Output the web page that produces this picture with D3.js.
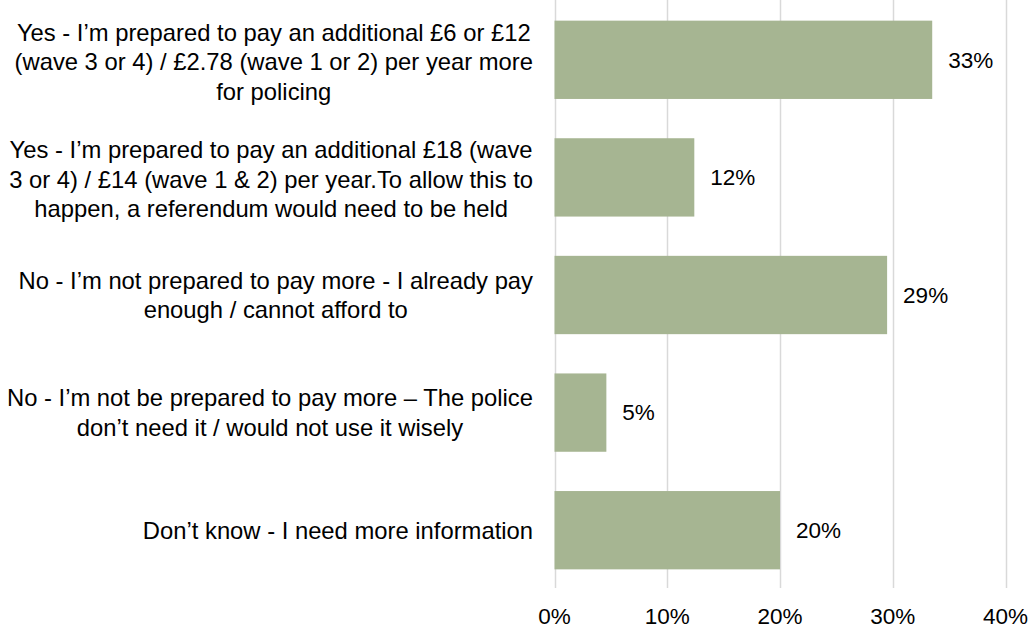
<!DOCTYPE html>
<html>
<head>
<meta charset="utf-8">
<script src="https://cdn.jsdelivr.net/npm/d3@7"></script>
<style>
  html, body { margin: 0; padding: 0; background: #ffffff; }
  svg { display: block; }
  text { font-family: "Liberation Sans", Arial, sans-serif; fill: #000; }
</style>
</head>
<body>
<svg id="chart" width="1033" height="630"></svg>
<script>
const categories = [
  "Yes - I\u2019m prepared to pay an additional \u00a36 or \u00a312\n(wave 3 or 4) / \u00a32.78 (wave 1 or 2) per year more\nfor policing",
  "Yes - I\u2019m prepared to pay an additional \u00a318 (wave\n3 or 4) / \u00a314 (wave 1 & 2) per year.To allow this to\nhappen, a referendum would need to be held",
  "No - I\u2019m not prepared to pay more - I already pay\nenough / cannot afford to",
  "No - I\u2019m not be prepared to pay more \u2013 The police\ndon\u2019t need it / would not use it wisely",
  "Don\u2019t know - I need more information"
];
const values = [33.5, 12.4, 29.5, 4.6, 20.0];
const valueLabels = ["33%", "12%", "29%", "5%", "20%"];
const tickValues = [0, 10, 20, 30, 40];
const tickLabels = ["0%", "10%", "20%", "30%", "40%"];

(function () {
const svg = d3.select("#chart");
const mLeft = 554.5, mRight = 1005.5, mTop = 1, mBottom = 589;
const numSize = 22.5, catSize = 23.8;

const x = d3.scaleLinear().domain([0, 40]).range([mLeft, mRight]);
const y = d3.scaleBand().domain(categories).range([mTop, mBottom])
  .paddingInner(0.334).paddingOuter(0.167);

// gridlines
svg.append("g").selectAll("line").data(tickValues).join("line")
  .attr("x1", d => Math.round(x(d)) + 0.5).attr("x2", d => Math.round(x(d)) + 0.5)
  .attr("y1", 0).attr("y2", 588)
  .attr("stroke", "#d9d9d9").attr("stroke-width", 1.5);

// tick labels
svg.append("g").selectAll("text").data(tickValues).join("text")
  .attr("x", d => x(d)).attr("y", 624)
  .attr("text-anchor", "middle").attr("font-size", numSize)
  .text((d, i) => tickLabels[i]);

// bars
svg.append("g").selectAll("rect").data(values).join("rect")
  .attr("x", x(0)).attr("y", (d, i) => y(categories[i]))
  .attr("width", d => x(d) - x(0)).attr("height", y.bandwidth())
  .attr("fill", "#a6b592");

// value labels
svg.append("g").selectAll("text").data(values).join("text")
  .attr("x", d => x(d) + 16)
  .attr("y", (d, i) => y(categories[i]) + y.bandwidth() / 2)
  .attr("dy", "0.35em").attr("font-size", numSize)
  .text((d, i) => valueLabels[i]);

// category labels: block right-aligned, lines centred within block
const lineH = 29.5;
const catG = svg.append("g");
categories.forEach((c, i) => {
  const lines = c.split("\n");
  const g = catG.append("g");
  const cy = y(c) + y.bandwidth() / 2 + (lines.length === 3 ? 2 : 0);
  const texts = lines.map((l, j) => g.append("text")
    .attr("font-size", catSize).attr("text-anchor", "middle")
    .attr("y", cy + (j - (lines.length - 1) / 2) * lineH)
    .attr("dy", "0.35em").text(l));
  const maxW = d3.max(texts, t => t.node().getComputedTextLength());
  texts.forEach(t => t.attr("x", 533 - maxW / 2));
});
})();
</script>
</body>
</html>
